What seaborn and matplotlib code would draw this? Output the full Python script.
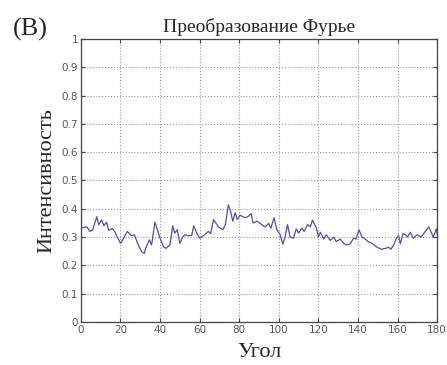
import numpy as np
import pandas as pd
import matplotlib
matplotlib.use("Agg")
import matplotlib.pyplot as plt
import seaborn as sns

# Values
angle = [0, 3, 4.5, 6, 8, 9, 10.5, 11.6, 13, 14, 16, 17, 20, 21, 23.4, 25.6, 27, 29,
         30.7, 32, 33, 34.6, 35.7, 37.4, 38.6, 40, 41.7, 43, 45, 46.4, 47.4, 48.7, 50,
         51.4, 52.6, 54, 56, 57, 58.5, 60, 62, 64.4, 65.6, 67, 69.5, 71.7, 73, 74.5,
         75.7, 76.7, 78, 79, 80.4, 83, 84.7, 86, 87, 89, 91.4, 93, 94.8, 96, 97.6, 99,
         100.7, 102, 103, 104.4, 105.7, 107.4, 108.8, 110, 111.6, 112.8, 114.5, 115.9,
         117, 119, 120, 121, 122.6, 124, 126, 127.7, 129, 131, 132.7, 134.4, 136, 137.8,
         139, 140.5, 142, 143.7, 145, 147, 149.6, 152, 153.8, 155.5, 156.7, 158, 159.4,
         160.5, 161.4, 162.7, 164, 165, 166.4, 168, 169.8, 171.8, 174, 175.8, 177, 178,
         179.6, 180]
intensity = [0.332, 0.336, 0.32, 0.326, 0.372, 0.344, 0.36, 0.34, 0.353, 0.324, 0.33,
             0.32, 0.278, 0.288, 0.32, 0.305, 0.308, 0.272, 0.248, 0.242, 0.266, 0.29,
             0.272, 0.353, 0.326, 0.296, 0.266, 0.26, 0.272, 0.34, 0.314, 0.326, 0.278,
             0.3, 0.308, 0.305, 0.306, 0.34, 0.314, 0.296, 0.305, 0.32, 0.312, 0.362,
             0.336, 0.326, 0.344, 0.414, 0.389, 0.356, 0.386, 0.362, 0.377, 0.368, 0.374,
             0.383, 0.35, 0.356, 0.344, 0.336, 0.348, 0.332, 0.368, 0.326, 0.308, 0.275,
             0.296, 0.344, 0.3, 0.296, 0.329, 0.314, 0.332, 0.32, 0.344, 0.336, 0.36,
             0.332, 0.3, 0.317, 0.293, 0.308, 0.288, 0.3, 0.284, 0.293, 0.278, 0.272,
             0.276, 0.296, 0.293, 0.326, 0.3, 0.293, 0.284, 0.278, 0.264, 0.257, 0.26,
             0.264, 0.257, 0.272, 0.296, 0.305, 0.276, 0.312, 0.308, 0.3, 0.317, 0.296,
             0.308, 0.3, 0.32, 0.336, 0.317, 0.3, 0.329, 0.31]
x_ticks = [0, 20, 40, 60, 80, 100, 120, 140, 160, 180]
y_ticks = [0, 0.1, 0.2, 0.3, 0.4, 0.5, 0.6, 0.7, 0.8, 0.9, 1]
y_tick_labels = ["0", "0.1", "0.2", "0.3", "0.4", "0.5", "0.6", "0.7", "0.8", "0.9", "1"]

df = pd.DataFrame({"Угол": angle, "Интенсивность": intensity})

sns.set_style("ticks")
plt.rcParams["font.family"] = ["Liberation Serif", "DejaVu Serif"]

fig = plt.figure(figsize=(4.47, 3.65), dpi=100)
ax = fig.add_axes([0.181, 0.118, 0.797, 0.775])

sns.lineplot(data=df, x="Угол", y="Интенсивность", ax=ax, color="#5050a0", linewidth=0.9)

ax.set_xlim(0, 180)
ax.set_ylim(0, 1)
ax.set_xticks(x_ticks)
ax.set_yticks(y_ticks)
ax.set_yticklabels(y_tick_labels)
ax.grid(True, linestyle=":", color="#999999", linewidth=0.8)

ax.tick_params(direction="in", length=3, width=0.8, top=True, right=True,
               labelsize=7.5, labelcolor="#555555", color="#444444", pad=2)
for lab in ax.get_xticklabels() + ax.get_yticklabels():
    lab.set_fontfamily("DejaVu Sans")
for sp in ax.spines.values():
    sp.set_visible(True)
    sp.set_color("#444444")
    sp.set_linewidth(0.9)

ax.set_title("Преобразование Фурье", fontsize=14, pad=5)
ax.set_xlabel("Угол", fontsize=16, labelpad=6)
ax.set_ylabel("Интенсивность", fontsize=16, labelpad=4)

fig.text(0.028, 0.92, "(B)", fontsize=19, va="center", ha="left")

fig.savefig("out.png", dpi=100, facecolor="white")
